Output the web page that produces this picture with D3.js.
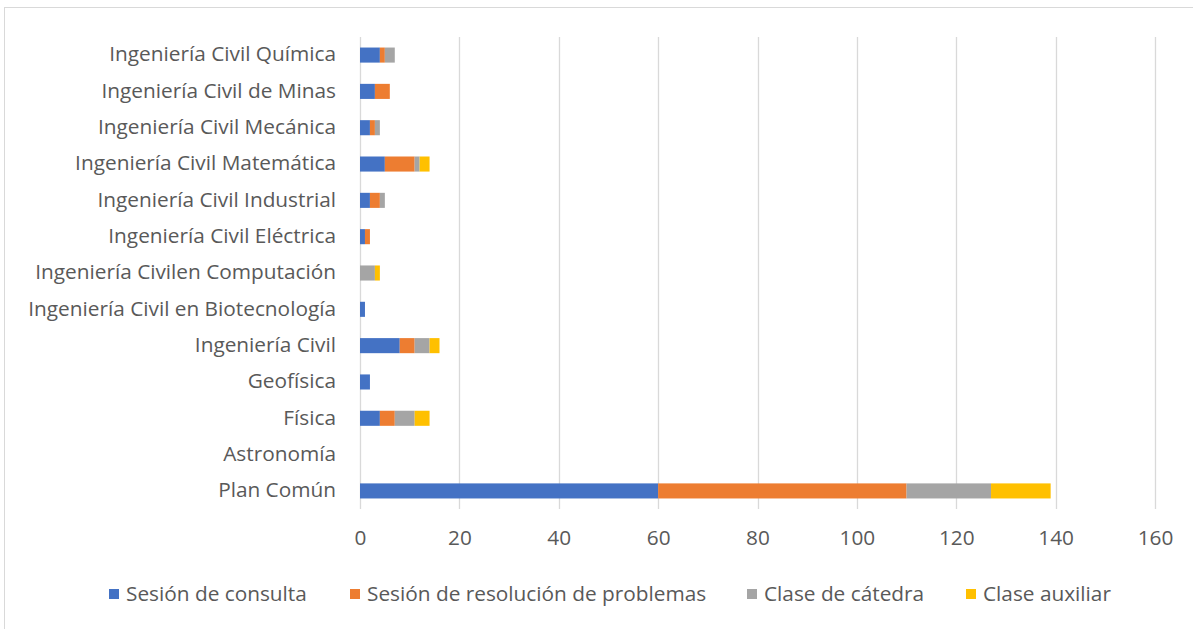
<!DOCTYPE html>
<html>
<head>
<meta charset="utf-8">
<script src="https://cdn.jsdelivr.net/npm/d3@7"></script>
<style>
  html, body { margin: 0; padding: 0; background: #fff; }
  svg { display: block; }
</style>
</head>
<body>
<svg id="chart" width="1193" height="629"></svg>
<script>
// Categories listed bottom-to-top as in the source chart
const categories = [
  "Plan Común",
  "Astronomía",
  "Física",
  "Geofísica",
  "Ingeniería Civil",
  "Ingeniería Civil en Biotecnología",
  "Ingeniería Civilen Computación",
  "Ingeniería Civil Eléctrica",
  "Ingeniería Civil Industrial",
  "Ingeniería Civil Matemática",
  "Ingeniería Civil Mecánica",
  "Ingeniería Civil de Minas",
  "Ingeniería Civil Química"
];
const seriesNames = ["Sesión de consulta", "Sesión de resolución de problemas", "Clase de cátedra", "Clase auxiliar"];
const sesionConsulta   = [60, 0, 4, 2, 8, 1, 0, 1, 2, 5, 2, 3, 4];
const sesionResolucion = [50, 0, 3, 0, 3, 0, 0, 1, 2, 6, 1, 3, 1];
const claseCatedra     = [17, 0, 4, 0, 3, 0, 3, 0, 1, 1, 1, 0, 2];
const claseAuxiliar    = [12, 0, 3, 0, 2, 0, 1, 0, 0, 2, 0, 0, 0];
const xTicks = [0, 20, 40, 60, 80, 100, 120, 140, 160];
const colors = ["#4472C4", "#ED7D31", "#A5A5A5", "#FFC000"];

(function () {
const seriesValues = [sesionConsulta, sesionResolucion, claseCatedra, claseAuxiliar];
const table = categories.map((c, i) => {
  const row = { category: c };
  seriesNames.forEach((s, j) => { row[s] = seriesValues[j][i]; });
  return row;
});
const stacked = d3.stack().keys(seriesNames)(table);

const svg = d3.select("#chart");
const font = "'Open Sans', sans-serif";
const textColor = "#595959";
const fs = 20.8;

// outer border
svg.append("rect")
  .attr("x", 4.5).attr("y", 7.5)
  .attr("width", 1200).attr("height", 640)
  .attr("fill", "#fff").attr("stroke", "#d9d9d9").attr("stroke-width", 1);

const pLeft = 360, pRight = 1155, pTop = 37, pBottom = 509;
const x = d3.scaleLinear().domain([0, 160]).range([pLeft, pRight]);
const y = d3.scaleBand().domain(categories.slice().reverse()).range([pTop, pBottom]).paddingInner(0.585).paddingOuter(0.29);

// gridlines
svg.append("g").selectAll("line").data(xTicks).join("line")
  .attr("x1", d => Math.round(x(d)) + 0.5).attr("x2", d => Math.round(x(d)) + 0.5)
  .attr("y1", pTop).attr("y2", pBottom)
  .attr("stroke", "#d9d9d9").attr("stroke-width", 1.3);

// x axis labels
const xAxis = d3.axisBottom(x).tickValues(xTicks).tickSize(0).tickPadding(0);
const gx = svg.append("g").attr("transform", `translate(0,${pBottom + 20})`).call(xAxis);
gx.select(".domain").remove();
gx.selectAll("text").attr("font-family", font).attr("font-size", fs).attr("fill", textColor).attr("dy", "0.75em");

// y axis labels
const yAxis = d3.axisLeft(y).tickSize(0).tickPadding(0);
const gy = svg.append("g").attr("transform", `translate(${pLeft - 24},0)`).call(yAxis);
gy.select(".domain").remove();
gy.selectAll("text").attr("font-family", font).attr("font-size", fs).attr("fill", textColor).attr("dy", "0.3em");

// bars
svg.append("g").selectAll("g").data(stacked).join("g")
  .attr("fill", (d, i) => colors[i])
  .selectAll("rect").data(d => d).join("rect")
  .attr("x", d => x(d[0]))
  .attr("y", d => y(d.data.category))
  .attr("width", d => x(d[1]) - x(d[0]))
  .attr("height", y.bandwidth());

// legend
const legendX = [109, 350, 747, 966];
const legend = svg.append("g").selectAll("g").data(seriesNames).join("g")
  .attr("transform", (d, i) => `translate(${legendX[i]},594)`);
legend.append("rect").attr("x", 0).attr("y", -5).attr("width", 10).attr("height", 10)
  .attr("fill", (d, i) => colors[i]);
legend.append("text").attr("x", 17).attr("y", 0).attr("dy", "0.33em")
  .attr("font-family", font).attr("font-size", fs).attr("fill", textColor)
  .text(d => d);
})();
</script>
</body>
</html>
